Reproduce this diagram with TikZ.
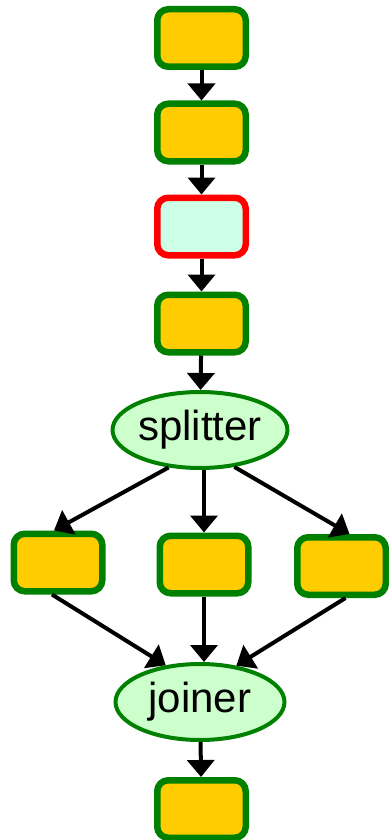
\documentclass[tikz,border=0pt]{standalone}
\usepackage{fontspec}
\setmainfont{Liberation Sans}
\usetikzlibrary{arrows.meta,shapes.geometric}
\definecolor{boxfill}{HTML}{FFCC00}
\definecolor{boxline}{HTML}{008000}
\definecolor{ovalfill}{HTML}{CCFFCC}
\definecolor{mintfill}{HTML}{CCFFE6}
\definecolor{redline}{HTML}{FF0000}
\tikzset{
  stage/.style={draw=boxline, fill=boxfill, line width=6.5pt, rounded corners=11pt,
    minimum width=88.5pt, minimum height=57.5pt, inner sep=0pt},
  redstage/.style={stage, draw=redline, fill=mintfill},
  oval/.style={draw=boxline, fill=ovalfill, line width=4pt, ellipse,
    minimum width=169pt, minimum height=76pt, inner sep=0pt,
    font=\fontsize{42}{48}\selectfont},
  flow/.style={line width=4pt, -{Triangle[width=27pt,length=17pt]}}
}
\begin{document}
\begin{tikzpicture}[x=1pt,y=1pt]
\useasboundingbox (0,0) rectangle (388,-840);
\node[stage] (a) at (201.5,-38) {};
\node[stage] (b) at (201.5,-132.5) {};
\node[redstage] (c) at (201.5,-226.5) {};
\node[stage] (d) at (201.5,-323.5) {};
\node[oval] (s) at (200,-430) {splitter};
\node[stage] (l) at (58,-562.5) {};
\node[stage] (m) at (204,-564.5) {};
\node[stage] (r) at (341.5,-566) {};
\node[oval] (j) at (200,-702) {joiner};
\node[stage] (e) at (201.5,-809) {};
\draw[flow] (a) -- (b);
\draw[flow] (b) -- (c);
\draw[flow] (c) -- (d);
\draw[flow] (d) -- (s);
\draw[flow] (s.230) -- ([xshift=-4pt]l.north);
\draw[flow] (s.south -| m.north) -- (m.north);
\draw[flow] (s.313) -- ([xshift=8pt]r.north);
\draw[flow] ([xshift=-6pt]l.south) -- (j.133);
\draw[flow] (m.south) -- (m.south |- j.north);
\draw[flow] ([xshift=4pt]r.south) -- (j.45);
\draw[flow] (j) -- (e);
\end{tikzpicture}
\end{document}
